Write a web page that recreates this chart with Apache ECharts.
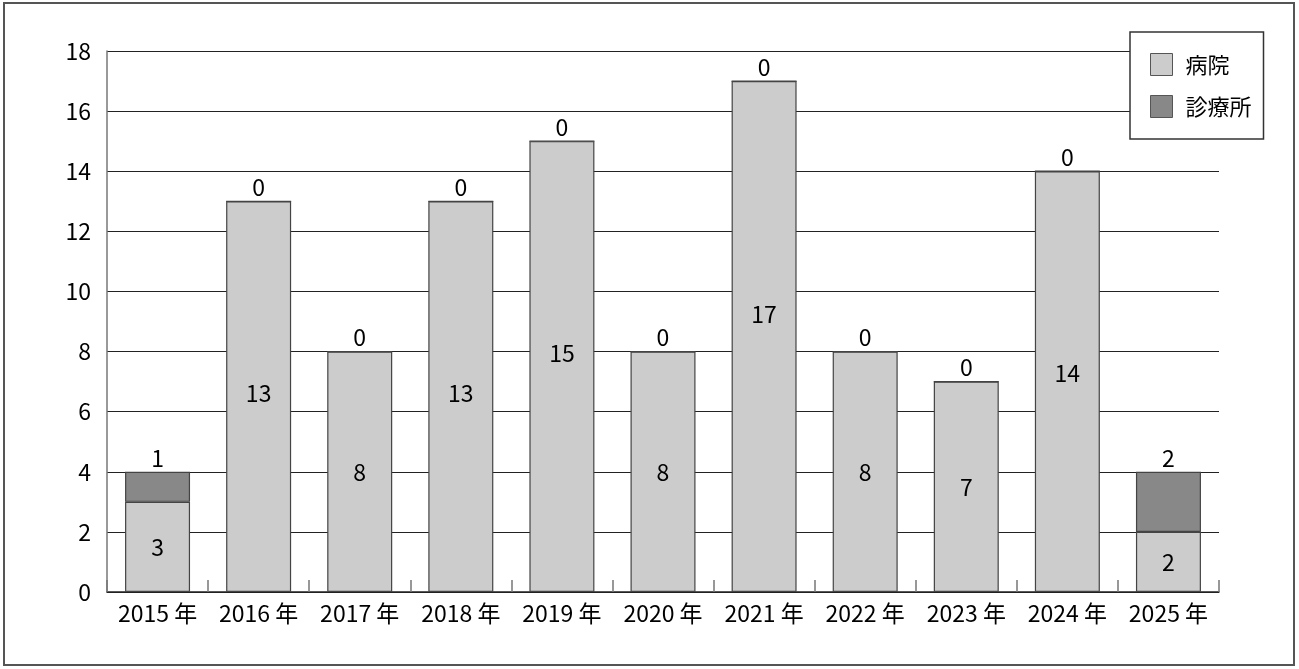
<!DOCTYPE html>
<html><head><meta charset="utf-8">
<script src="https://cdn.jsdelivr.net/npm/echarts@6/dist/echarts.min.js"></script>
<style>html,body{margin:0;padding:0;background:#fff}#c{width:1299px;height:669px}</style>
</head><body><div id="c"></div>
<script>
const categories = ['2015 年','2016 年','2017 年','2018 年','2019 年','2020 年','2021 年','2022 年','2023 年','2024 年','2025 年'];
const hospital = [3,13,8,13,15,8,17,8,7,14,2];
const clinic = [1,0,0,0,0,0,0,0,0,0,2];
const seriesNames = ['病院','診療所'];
const yTicks = [0,2,4,6,8,10,12,14,16,18];

const FONT = '"Noto Sans CJK JP", "Noto Sans", sans-serif';
const FS = 23;
const chart = echarts.init(document.getElementById('c'), null, {renderer:'canvas'});
const hospitalData = hospital.map(v => ({
  value: v,
  label: { offset: [0, -4.6 * Math.max(0, v - 12.2)] }
}));
chart.setOption({
  animation:false,
  backgroundColor:'#fff',
  textStyle:{fontFamily:FONT},
  graphic:[{type:'rect',shape:{x:4,y:3,width:1290,height:662},style:{fill:'none',stroke:'#555',lineWidth:2},silent:true}],
  grid:{left:107,right:80,top:51,bottom:77,containLabel:false},
  legend:{
    orient:'vertical', left:1130, top:32,
    padding:[21,12,21,20], itemGap:19, itemWidth:22, itemHeight:22,
    icon:'rect',
    backgroundColor:'#fff', borderColor:'#333', borderWidth:1.5,
    textStyle:{fontSize:22,color:'#000',fontFamily:FONT,padding:[0,0,0,8]},
    itemStyle:{borderColor:'#555',borderWidth:1},
    data:seriesNames
  },
  xAxis:{
    type:'category', data:categories,
    axisLine:{show:true,lineStyle:{color:'#222',width:1.5}},
    axisTick:{show:true,inside:true,length:12,interval:0,lineStyle:{color:'#777',width:1.5},alignWithLabel:false},
    axisLabel:{fontSize:FS,color:'#000',margin:10,interval:0,hideOverlap:false,fontFamily:FONT}
  },
  yAxis:{
    type:'value', min:yTicks[0], max:yTicks[yTicks.length-1], interval:2,
    axisLine:{show:true,lineStyle:{color:'#777',width:1.5}},
    axisTick:{show:false},
    axisLabel:{fontSize:FS,color:'#000',margin:16,fontFamily:FONT},
    splitLine:{show:true,lineStyle:{color:'#222',width:1}}
  },
  series:[
    {name:seriesNames[0], type:'bar', stack:'a', data:hospitalData, barWidth:65,
     itemStyle:{color:'#cccccc',borderColor:'#444',borderWidth:1.2},
     label:{show:true,position:'inside',fontSize:FS,color:'#000',fontFamily:FONT}},
    {name:seriesNames[1], type:'bar', stack:'a', data:clinic, barWidth:65,
     itemStyle:{color:'#888888',borderColor:'#444',borderWidth:1.2},
     label:{show:true,position:'top',fontSize:FS,color:'#000',distance:2,fontFamily:FONT}}
  ]
});
</script></body></html>
